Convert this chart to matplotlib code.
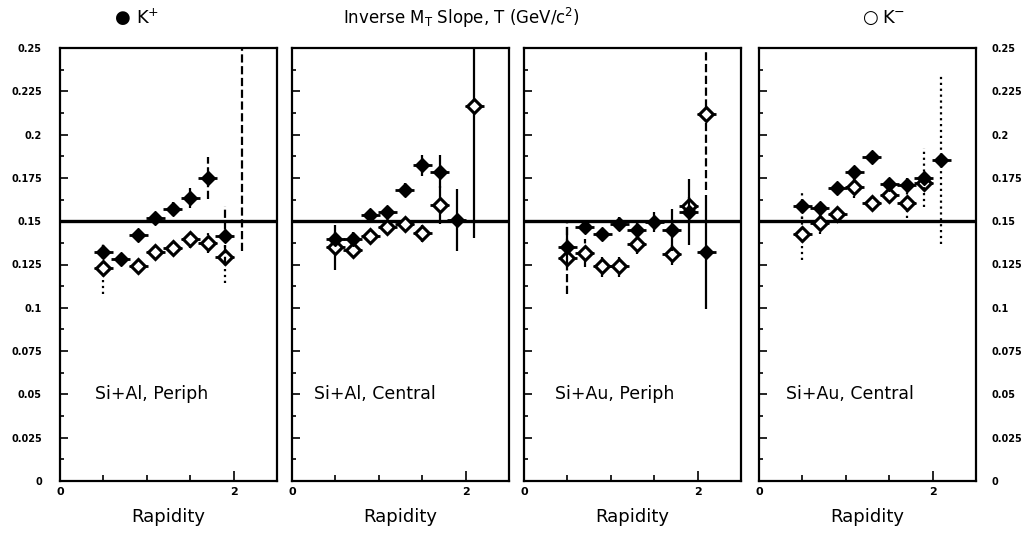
import matplotlib
matplotlib.use("Agg")
import matplotlib.pyplot as plt
from matplotlib.ticker import MultipleLocator, FixedLocator

plt.rcParams['font.family'] = ['DejaVu Sans']

# ---------------- data ----------------
panel_labels = ["Si+Al, Periph", "Si+Al, Central", "Si+Au, Periph", "Si+Au, Central"]

p1_kp_x = [0.5, 0.7, 0.9, 1.1, 1.3, 1.5, 1.7, 1.9, 2.1]
p1_kp_y = [0.132, 0.128, 0.142, 0.152, 0.157, 0.1635, 0.175, 0.1415, 0.30]
p1_kp_e = [0.004, 0.003, 0.003, 0.003, 0.004, 0.006, 0.012, 0.017, 0.167]
p1_km_x = [0.5, 0.9, 1.1, 1.3, 1.5, 1.7, 1.9]
p1_km_y = [0.1227, 0.1242, 0.1323, 0.1346, 0.1395, 0.1377, 0.1294]
p1_km_e = [0.0145, 0.003, 0.003, 0.003, 0.005, 0.006, 0.015]

p2_kp_x = [0.5, 0.7, 0.9, 1.1, 1.3, 1.5, 1.7, 1.9]
p2_kp_y = [0.1395, 0.1395, 0.1535, 0.1554, 0.1679, 0.1823, 0.1785, 0.1506]
p2_kp_e = [0.004, 0.004, 0.003, 0.003, 0.004, 0.006, 0.0095, 0.018]
p2_km_x = [0.5, 0.7, 0.9, 1.1, 1.3, 1.5, 1.7, 2.1]
p2_km_y = [0.1349, 0.1333, 0.1414, 0.1468, 0.1483, 0.1429, 0.1593, 0.2164]
p2_km_e = [0.013, 0.004, 0.003, 0.003, 0.003, 0.005, 0.011, 0.076]

p3_kp_x = [0.5, 0.7, 0.9, 1.1, 1.3, 1.5, 1.7, 1.9, 2.1]
p3_kp_y = [0.1352, 0.1464, 0.1425, 0.1483, 0.1448, 0.1496, 0.1448, 0.1554, 0.1323]
p3_kp_e = [0.0115, 0.003, 0.003, 0.004, 0.004, 0.006, 0.012, 0.019, 0.033]
p3_km_x = [0.5, 0.7, 0.9, 1.1, 1.3, 1.7, 1.9, 2.1]
p3_km_y = [0.129, 0.1317, 0.124, 0.124, 0.1368, 0.131, 0.1587, 0.2118]
p3_km_e = [0.021, 0.008, 0.006, 0.006, 0.006, 0.006, 0.006, 0.044]

p4_kp_x = [0.5, 0.7, 0.9, 1.1, 1.3, 1.5, 1.7, 1.9, 2.1]
p4_kp_y = [0.1589, 0.1579, 0.1693, 0.1785, 0.1868, 0.1712, 0.1708, 0.1752, 0.1856]
p4_kp_e = [0.0075, 0.003, 0.003, 0.003, 0.003, 0.004, 0.004, 0.017, 0.049]
p4_km_x = [0.5, 0.7, 0.9, 1.1, 1.3, 1.5, 1.7, 1.9]
p4_km_y = [0.1425, 0.1487, 0.1539, 0.1695, 0.1606, 0.1654, 0.1606, 0.1722]
p4_km_e = [0.015, 0.006, 0.004, 0.006, 0.004, 0.005, 0.009, 0.005]

ytick_vals = [0, 0.025, 0.05, 0.075, 0.1, 0.125, 0.15, 0.175, 0.2, 0.225, 0.25]
ytick_labels = ["0", "0.025", "0.05", "0.075", "0.1", "0.125", "0.15", "0.175", "0.2", "0.225", "0.25"]
xtick_vals = [0, 2]
xtick_labels = ["0", "2"]
ref_level = 0.15

panels = [
    (p1_kp_x, p1_kp_y, p1_kp_e, p1_km_x, p1_km_y, p1_km_e, '--', ':'),
    (p2_kp_x, p2_kp_y, p2_kp_e, p2_km_x, p2_km_y, p2_km_e, '-', '-'),
    (p3_kp_x, p3_kp_y, p3_kp_e, p3_km_x, p3_km_y, p3_km_e, '-', '--'),
    (p4_kp_x, p4_kp_y, p4_kp_e, p4_km_x, p4_km_y, p4_km_e, ':', ':'),
]

# ---------------- figure ----------------
fig = plt.figure(figsize=(10.28, 5.34), dpi=100)
lefts = [60, 292, 524, 759]
W, H = 1028, 534
ax_w = 217
bottom_px = 53
height_px = 433

for i, (kx, ky, ke, mx, my, me, kls, mls) in enumerate(panels):
    ax = fig.add_axes([lefts[i] / W, bottom_px / H, ax_w / W, height_px / H])
    ax.set_xlim(0, 2.5)
    ax.set_ylim(0, 0.25)
    for s in ax.spines.values():
        s.set_linewidth(1.6)
    ax.axhline(ref_level, color='black', lw=2.4, zorder=2)

    # K- (open)
    eb = ax.errorbar(mx, my, yerr=me, xerr=0.11, fmt='D', ms=7, mfc='white',
                     mec='black', mew=2.2, ecolor='black', elinewidth=1.6,
                     capsize=0, zorder=4)
    eb[2][1].set_linestyle(mls)
    eb[2][0].set_linewidth(2.0)
    # K+ (filled)
    eb = ax.errorbar(kx, ky, yerr=ke, xerr=0.11, fmt='D', ms=7, mfc='black',
                     mec='black', mew=1.0, ecolor='black', elinewidth=1.6,
                     capsize=0, zorder=5)
    eb[2][1].set_linestyle(kls)
    eb[2][0].set_linewidth(2.0)

    ax.text(0.42 if i != 1 else 0.38, 0.2, panel_labels[i], transform=ax.transAxes,
            ha='center', va='center', fontsize=12.5)
    ax.set_xlabel("Rapidity", fontsize=13, labelpad=8)

    ax.xaxis.set_major_locator(FixedLocator(xtick_vals))
    ax.set_xticklabels(xtick_labels, fontsize=8, fontweight='bold')
    ax.xaxis.set_minor_locator(FixedLocator([0.5, 1.0, 1.5]))
    ax.tick_params(axis='x', which='major', direction='in', length=7, width=1.2, pad=4, top=False)
    ax.tick_params(axis='x', which='minor', direction='in', length=4, width=1.2, top=False)

    ax.yaxis.set_major_locator(FixedLocator(ytick_vals))
    ax.yaxis.set_minor_locator(MultipleLocator(0.0125))
    ax.tick_params(axis='y', which='major', direction='in', length=6, width=1.2)
    ax.tick_params(axis='y', which='minor', direction='in', length=3, width=1.2)
    if i == 0:
        ax.set_yticklabels(ytick_labels, fontsize=7, fontweight='bold')
        ax.tick_params(axis='y', which='major', pad=13)
    elif i == 3:
        ax.set_yticklabels(ytick_labels, fontsize=7, fontweight='bold')
        ax.yaxis.tick_right()
        ax.tick_params(axis='y', which='both', direction='in', length=0, pad=11,
                       left=True, labelleft=False)
        ax.tick_params(axis='y', which='major', length=6, left=True)
        ax.tick_params(axis='y', which='minor', length=3, left=True)
        ax.tick_params(axis='y', which='both', right=False)
    else:
        ax.set_yticklabels([])

# header
fig.text(115 / W, 1 - 18 / H, "\u25CF", fontsize=13, ha='left', va='center')
fig.text(136 / W, 1 - 18 / H, "K$^{+}$", fontsize=13, ha='left', va='center')
fig.text(461 / W, 1 - 18 / H, "Inverse M$_{\\mathrm{T}}$ Slope, T (GeV/c$^{2}$)", fontsize=12,
         ha='center', va='center')
fig.text(862 / W, 1 - 18 / H, "\u25CB", fontsize=13, ha='left', va='center')
fig.text(882 / W, 1 - 18 / H, "K$^{-}$", fontsize=13, ha='left', va='center')

fig.savefig("out.png", dpi=100)
